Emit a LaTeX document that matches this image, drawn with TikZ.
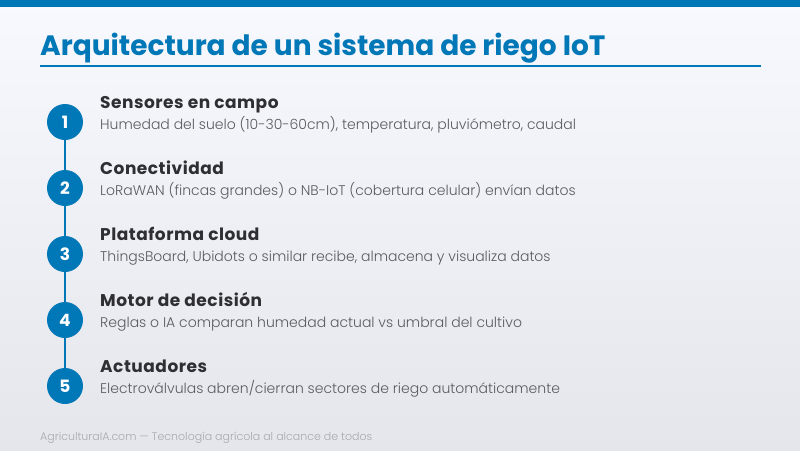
\documentclass[tikz,border=0pt]{standalone}
\usepackage{fontspec}
\setmainfont{Poppins}
\newfontfamily\poplight{Poppins Light}
\usepackage{tikz}
\definecolor{riegoblue}{HTML}{0077B6}
\definecolor{darktext}{HTML}{2E2E33}
\definecolor{greytext}{HTML}{5A5A60}
\definecolor{foottext}{HTML}{A8A8AE}
\definecolor{bgtop}{HTML}{F8F9FE}
\definecolor{bgbottom}{HTML}{E5E6EB}

\begin{document}
\begin{tikzpicture}[x = 1pt, y = -1pt,
                        stepnum/.style = {circle, fill = riegoblue, minimum size = 36pt, inner sep = 0pt,
                                          text = white, font = \fontsize{17}{17}\selectfont\bfseries},
                        head/.style = {anchor = base west, inner sep = 0pt, text = darktext,
                                       font = \fontsize{17}{18}\selectfont\bfseries\addfontfeatures{LetterSpace=3}},
                        desc/.style = {anchor = base west, inner sep = 0pt, text = greytext,
                                       font = \fontsize{14}{16}\selectfont\poplight}]
      \useasboundingbox (0, 0) rectangle (800, 450);
      \shade [top color = bgtop, bottom color = bgbottom] (0, 0) rectangle (800, 450);
      \fill [riegoblue] (0, 0) rectangle (800, 6.5);
      \node [anchor = base west, inner sep = 0pt, text = riegoblue,
             font = \fontsize{28}{30}\selectfont\bfseries] (title) at (40, 55) {Arquitectura de un sistema de riego IoT};
      \draw [riegoblue, line width = 2pt] (40, 65.5) -- (761, 65.5);
      % steps
      \node [stepnum] (s1) at (65, 122){1};
      \node [stepnum] (s2) at (65, 188){2};
      \node [stepnum] (s3) at (65, 254){3};
      \node [stepnum] (s4) at (65, 320){4};
      \node [stepnum] (s5) at (65, 386){5};
      \draw [riegoblue, line width = 2pt] (s1) -- (s2) -- (s3) -- (s4) -- (s5);
      \node [head] (h1) at (100, 108.5){Sensores en campo};
      \node [desc] (d1) at (100, 129.5){Humedad del suelo (10-30-60cm), temperatura, pluviómetro, caudal};
      \node [head] (h2) at (100, 174.5){Conectividad};
      \node [desc] (d2) at (100, 195.5){LoRaWAN (fincas grandes) o NB-IoT (cobertura celular) envían datos};
      \node [head] (h3) at (100, 240.5){Plataforma cloud};
      \node [desc] (d3) at (100, 261.5){ThingsBoard, Ubidots o similar recibe, almacena y visualiza datos};
      \node [head] (h4) at (100, 306.5){Motor de decisión};
      \node [desc] (d4) at (100, 327.5){Reglas o IA comparan humedad actual vs umbral del cultivo};
      \node [head] (h5) at (100, 372.5){Actuadores};
      \node [desc] (d5) at (100, 393.5){Electroválvulas abren/cierran sectores de riego automáticamente};
      \node [anchor = base west, inner sep = 0pt, text = foottext,
             font = \fontsize{11}{12}\selectfont\poplight] (foot) at (40, 440.5){AgriculturaIA.com — Tecnología agrícola al alcance de todos};
    \end{tikzpicture}
\end{document}
